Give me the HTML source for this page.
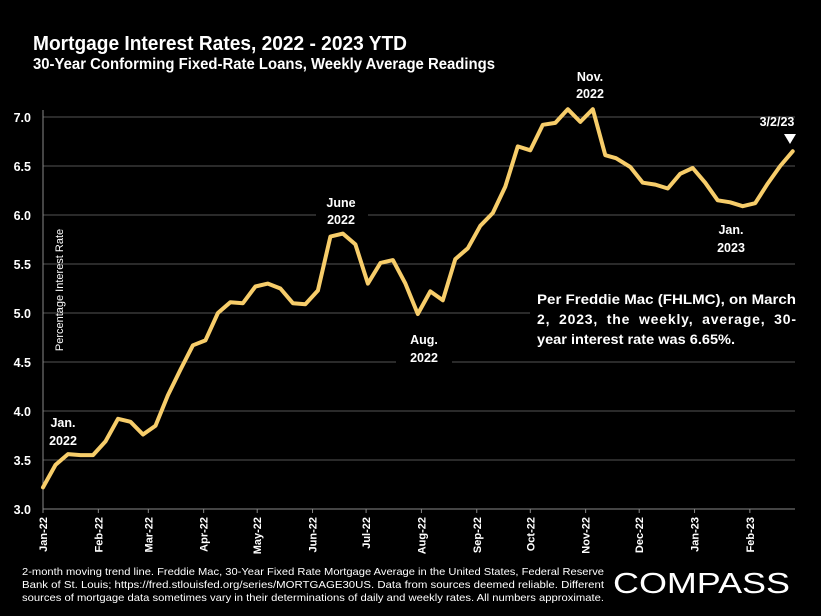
<!DOCTYPE html>
<html><head><meta charset="utf-8"><style>
html,body{margin:0;padding:0;background:#000;}
svg{display:block;font-family:"Liberation Sans",sans-serif;}
</style></head><body>
<svg id="chart" width="821" height="616" viewBox="0 0 821 616" xmlns="http://www.w3.org/2000/svg">
<rect width="821" height="616" fill="#000"/>
<text x="33" y="50" font-size="20" font-weight="bold" fill="#fff" textLength="374" lengthAdjust="spacingAndGlyphs">Mortgage Interest Rates, 2022 - 2023 YTD</text>
<text x="33" y="69" font-size="15.5" font-weight="bold" fill="#fff" textLength="462" lengthAdjust="spacingAndGlyphs">30-Year Conforming Fixed-Rate Loans, Weekly Average Readings</text>
<g id="grid"></g>
<g id="annot-bg"></g>
<g id="axes"></g>
<path id="line" fill="none" stroke="#f7cd6a" stroke-width="4" stroke-linejoin="round" stroke-linecap="round"/>
<g id="labels" font-weight="bold" fill="#fff" font-size="12.5" text-anchor="middle">
<text x="63" y="427">Jan.</text>
<text x="63" y="445">2022</text>
<text x="341" y="207">June</text>
<text x="341" y="224">2022</text>
<text x="424" y="344">Aug.</text>
<text x="424" y="362">2022</text>
<text x="590" y="81">Nov.</text>
<text x="590" y="98">2022</text>
<text x="731" y="234">Jan.</text>
<text x="731" y="252">2023</text>
<text x="777" y="126">3/2/23</text>
<polygon points="784,134 796,134 790,144" fill="#fff"/>
</g>
<g font-size="14" fill="#fff" font-weight="bold">
<text x="537" y="304" textLength="259" lengthAdjust="spacingAndGlyphs">Per Freddie Mac (FHLMC), on March</text>
<text x="537" y="324" textLength="259" lengthAdjust="spacing" word-spacing="4">2, 2023, the weekly, average, 30-</text>
<text x="537" y="344" textLength="198" lengthAdjust="spacingAndGlyphs">year interest rate was 6.65%.</text>
</g>
<text transform="translate(63,290) rotate(-90)" font-size="11" fill="#fff" text-anchor="middle">Percentage Interest  Rate</text>
<g font-size="10.5" fill="#fff">
<text x="22" y="575" textLength="582" lengthAdjust="spacingAndGlyphs">2-month moving trend line. Freddie Mac, 30-Year Fixed Rate Mortgage Average in the United States, Federal Reserve</text>
<text x="22" y="588" textLength="582" lengthAdjust="spacingAndGlyphs">Bank of St. Louis; https://fred.stlouisfed.org/series/MORTGAGE30US. Data from sources deemed reliable. Different</text>
<text x="22" y="601" textLength="582" lengthAdjust="spacingAndGlyphs">sources of mortgage data sometimes vary in their determinations of daily and weekly rates. All numbers approximate.</text>
</g>
<text x="613" y="593" font-size="29" fill="#fff" textLength="177" lengthAdjust="spacingAndGlyphs">COMPASS</text>
</svg>
<script>
const dates = ["2022-01-06","2022-01-13","2022-01-20","2022-01-27","2022-02-03","2022-02-10","2022-02-17","2022-02-24","2022-03-03","2022-03-10","2022-03-17","2022-03-24","2022-03-31","2022-04-07","2022-04-14","2022-04-21","2022-04-28","2022-05-05","2022-05-12","2022-05-19","2022-05-26","2022-06-02","2022-06-09","2022-06-16","2022-06-23","2022-06-30","2022-07-07","2022-07-14","2022-07-21","2022-07-28","2022-08-04","2022-08-11","2022-08-18","2022-08-25","2022-09-01","2022-09-08","2022-09-15","2022-09-22","2022-09-29","2022-10-06","2022-10-13","2022-10-20","2022-10-27","2022-11-03","2022-11-10","2022-11-17","2022-11-23","2022-12-01","2022-12-08","2022-12-15","2022-12-22","2022-12-29","2023-01-05","2023-01-12","2023-01-19","2023-01-26","2023-02-02","2023-02-09","2023-02-16","2023-02-23","2023-03-02"];
const rates = [3.22,3.45,3.56,3.55,3.55,3.69,3.92,3.89,3.76,3.85,4.16,4.42,4.67,4.72,5.00,5.11,5.10,5.27,5.30,5.25,5.10,5.09,5.23,5.78,5.81,5.70,5.30,5.51,5.54,5.30,4.99,5.22,5.13,5.55,5.66,5.89,6.02,6.29,6.70,6.66,6.92,6.94,7.08,6.95,7.08,6.61,6.58,6.49,6.33,6.31,6.27,6.42,6.48,6.33,6.15,6.13,6.09,6.12,6.32,6.50,6.65];
const yTicks = ["3.0","3.5","4.0","4.5","5.0","5.5","6.0","6.5","7.0"];
const xTickLabels = ["Jan-22","Feb-22","Mar-22","Apr-22","May-22","Jun-22","Jul-22","Aug-22","Sep-22","Oct-22","Nov-22","Dec-22","Jan-23","Feb-23"];
const xTickDates = ["2022-01-01","2022-02-01","2022-03-01","2022-04-01","2022-05-01","2022-06-01","2022-07-01","2022-08-01","2022-09-01","2022-10-01","2022-11-01","2022-12-01","2023-01-01","2023-02-01"];

const NS="http://www.w3.org/2000/svg";
const X0=43, PXDAY=1.785, Y0=509, PXUNIT=98, XR=795;
const base=Date.parse("2022-01-01");
const dayOf=d=>(Date.parse(d)-base)/86400000;
const first=dayOf(dates[0]);
const xPt=d=>X0+(dayOf(d)-first)*PXDAY;
const xTick=d=>X0+dayOf(d)*PXDAY;
const y=v=>Y0-(v-3)*PXUNIT;
function mk(tag,attrs,parent){const e=document.createElementNS(NS,tag);for(const k in attrs)e.setAttribute(k,attrs[k]);parent.appendChild(e);return e;}
const grid=document.getElementById('grid'), axes=document.getElementById('axes');
yTicks.forEach((t,i)=>{
  const v=parseFloat(t), yy=y(v);
  if(i>0){const l=mk('line',{x1:X0,x2:XR,y1:yy,y2:yy,stroke:'#555','stroke-width':1},grid);
  
  }
  const tx=mk('text',{x:31,y:yy+5,'text-anchor':'end','font-size':12.5,'font-weight':'bold',fill:'#fff'},axes);
  tx.textContent=t;
  
  
});
// black boxes behind annotations (gridline gaps)
const bg=document.getElementById('annot-bg');
[[38,412,52,40],[316,192,52,40],[396,330,56,40],[562,67,56,40],[700,220,62,40],[530,288,270,62]].forEach(b=>{
  const r=mk('rect',{x:b[0],y:b[1],width:b[2],height:b[3],fill:'#000'},bg);
  
  
});
const ax=mk('line',{x1:X0,x2:XR,y1:Y0,y2:Y0,stroke:'#888','stroke-width':1},axes);


const ay=mk('line',{x1:X0,x2:X0,y1:Y0,y2:110,stroke:'#888','stroke-width':1},axes);


xTickLabels.forEach((t,i)=>{
  const xx=xTick(xTickDates[i]);
  const tk=mk('line',{x1:xx,x2:xx,y1:Y0,y2:Y0+4,stroke:'#888'},axes);
  
  
  const tx=mk('text',{transform:`translate(${xx+4},${Y0+8}) rotate(-90)`,'text-anchor':'end','font-size':11,'font-weight':'bold',fill:'#fff'},axes);
  tx.textContent=t;
  
  
});
document.getElementById('line').setAttribute('d',rates.map((v,i)=>(i?'L':'M')+xPt(dates[i]).toFixed(1)+','+y(v).toFixed(1)).join(' '));
</script>
</body></html>
